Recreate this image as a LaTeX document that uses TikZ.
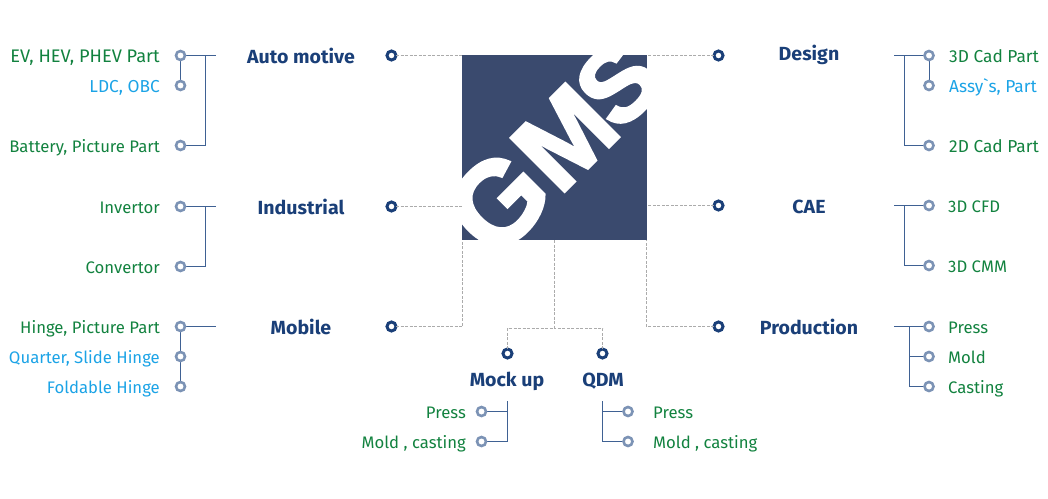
\documentclass[tikz,border=0pt]{standalone}
\usepackage{fontspec}
\setmainfont[FakeStretch=1.03]{Fira Sans}
\newfontfamily\lab{Fira Sans}
\newfontfamily\logofont[FakeBold=2.6]{Liberation Sans Bold}
\definecolor{grn}{HTML}{12823F}
\definecolor{sky}{HTML}{1BA3E6}
\definecolor{navy}{HTML}{1A3F78}
\definecolor{ringc}{HTML}{7C93B5}
\definecolor{linec}{HTML}{3F6193}
\definecolor{dashc}{HTML}{ABABAB}
\definecolor{logoc}{HTML}{3A4A6E}
\tikzset{
  x=1pt,y=-1pt,
  ring/.style={circle,draw=ringc,line width=2.6pt,fill=white,minimum size=9pt,inner sep=0pt,outer sep=0pt},
  hub/.style={circle,draw=navy,line width=3pt,fill=white,minimum size=9pt,inner sep=0pt,outer sep=0pt},
  solidl/.style={draw=linec,line width=0.9pt},
  dashl/.style={draw=dashc,line width=0.7pt,dash pattern=on 3pt off 1.5pt},
  head/.style={text=navy,font=\fontsize{19}{19}\selectfont\bfseries,inner sep=0pt,anchor=base},
  gl/.style={text=grn,font=\fontsize{16.7}{18}\lab,inner sep=0pt},
  bl/.style={text=sky,font=\fontsize{16.7}{18}\lab,inner sep=0pt},
  capsl/.style={font=\fontsize{17.3}{18}\lab},
  capsx/.style={font=\fontsize{18.2}{18}\lab},
  lt/.style={anchor=base east},
  rt/.style={anchor=base west},
  logol/.style={text=white,inner sep=0pt,rotate=45,font=\fontsize{#1}{#1}\logofont},
}
\begin{document}
\begin{tikzpicture}
\useasboundingbox (0,0) rectangle (1048,498);
% logo
\begin{scope}
\clip (462,55) rectangle (647,240);
\fill[logoc] (462,55) rectangle (647,240);
\node[logol=116] (lg) at (498,202) {G};
\node[logol=110] (lm) at (565,137.5) {M};
\node[logol=104] (ls) at (618,84) {S};
\end{scope}
% coordinates
\coordinate (lT) at (462,55.5);\coordinate (lI) at (462,206.5);
\coordinate (rT) at (647,55.5);\coordinate (rC) at (647,205.5);
\coordinate (bL) at (462.5,240);\coordinate (bM) at (554.5,240);\coordinate (bR) at (646.5,240);
\coordinate (bJ) at (554.5,328);
% hubs
\node[hub] (auto) at (391.5,55.5) {};
\node[hub] (ind) at (391.5,206.5) {};
\node[hub] (mob) at (391.5,326.5) {};
\node[hub] (des) at (718.5,55.5) {};
\node[hub] (cae) at (718.5,205.5) {};
\node[hub] (pro) at (718.5,326.5) {};
\node[hub] (moc) at (507.5,353.5) {};
\node[hub] (qdm) at (602.5,353.5) {};
% dashed
\draw[dashl] (auto) -- (lT);
\draw[dashl] (ind) -- (lI);
\draw[dashl] (des) -- (rT);
\draw[dashl] (cae) -- (rC);
\draw[dashl] (mob) -| (bL);
\draw[dashl] (pro) -| (bR);
\draw[dashl] (bM) -- (bJ);
\draw[dashl] (moc) |- (bJ);
\draw[dashl] (qdm) |- (bJ);
% free ends
\coordinate (a0) at (216,55.5);\coordinate (a1) at (205,55.5);
\coordinate (i0) at (216,206.5);\coordinate (i1) at (205,206.5);
\coordinate (m0) at (216,326.5);
\coordinate (d0) at (894,55.5);\coordinate (d1) at (904,55.5);
\coordinate (c0) at (894,205.5);\coordinate (c1) at (904,205.5);
\coordinate (p0) at (894,326.5);\coordinate (p1) at (909,326.5);
\coordinate (k0) at (507.5,401);\coordinate (q0) at (602.5,401);
% solid lines
\draw[solidl] (180.5,55.5) coordinate (aa) -- (a0);
\draw[solidl] (a1) |- (180.5,145.5) coordinate (ac);
\draw[solidl] (aa) -- (180.5,85.5) coordinate (ab);
\draw[solidl] (180.5,206.5) coordinate (ia) -- (i0);
\draw[solidl] (i1) |- (180.5,266.5) coordinate (ib);
\draw[solidl] (180.5,326.5) coordinate (ma) -- (m0);
\draw[solidl] (ma) -- (180.5,386.5) coordinate (mc);
\coordinate (mb) at (180.5,356.5);
\draw[solidl] (d0) -- (929,55.5) coordinate (da);
\draw[solidl] (d1) |- (929,145.5) coordinate (dc);
\draw[solidl] (da) -- (929,85.5) coordinate (db);
\draw[solidl] (c0) -- (929,205.5) coordinate (ca);
\draw[solidl] (c1) |- (929,265.5) coordinate (cb);
\draw[solidl] (p0) -- (929,326.5) coordinate (pa);
\draw[solidl] (p1) |- (929,386.5) coordinate (pc);
\draw[solidl] (p1 |- 0,356.5) -- (929,356.5) coordinate (pb);
\draw[solidl] (k0) |- (481.5,441.5) coordinate (kb);
\draw[solidl] (k0 |- 0,411.5) -- (481.5,411.5) coordinate (ka);
\draw[solidl] (q0) |- (628,441.5) coordinate (qb);
\draw[solidl] (q0 |- 0,411.5) -- (628,411.5) coordinate (qa);
% rings
\foreach \p in {aa,ab,ac,ia,ib,ma,mb,mc,da,db,dc,ca,cb,pa,pb,pc,ka,kb,qa,qb}{\node[ring] (r\p) at (\p) {};}
% headings
\node[head] (t1) at (301,63.5) {Auto motive};
\node[head] (t2) at (301,214.5) {Industrial};
\node[head] (t3) at (301,334.5) {Mobile};
\node[head] (t4) at (809,60.5) {Design};
\node[head] (t5) at (809,213.5) {CAE};
\node[head] (t6) at (809,334.5) {Production};
\node[head] (t7) at (507,386.5) {Mock up};
\node[head] (t8) at (603,386.5) {QDM};
% left labels
\node[gl,lt,capsx] (l1) at (160,62) {EV, HEV, PHEV Part};
\node[bl,lt,capsl] (l2) at (160,92) {LDC, OBC};
\node[gl,lt] (l3) at (160,152) {Battery, Picture Part};
\node[gl,lt] (l4) at (160,213) {Invertor};
\node[gl,lt] (l5) at (160,273) {Convertor};
\node[gl,lt] (l6) at (160,333) {Hinge, Picture Part};
\node[bl,lt] (l7) at (160,363) {Quarter, Slide Hinge};
\node[bl,lt] (l8) at (160,393) {Foldable Hinge};
\node[gl,lt] (l9) at (466,418) {Press};
\node[gl,lt] (l10) at (466,448) {Mold , casting};
% right labels
\node[gl,rt,capsl] (r1) at (949,62) {3D Cad Part};
\node[bl,rt,capsl] (r2) at (949,92) {Assy\char96 s, Part};
\node[gl,rt,capsl] (r3) at (949,152) {2D Cad Part};
\node[gl,rt] (r4) at (948,212) {3D CFD};
\node[gl,rt] (r5) at (948,272) {3D CMM};
\node[gl,rt] (r6) at (948,333) {Press};
\node[gl,rt] (r7) at (948,363) {Mold};
\node[gl,rt] (r8) at (948,393) {Casting};
\node[gl,rt] (r9) at (653,418) {Press};
\node[gl,rt] (r10) at (653,448) {Mold , casting};
\end{tikzpicture}
\end{document}
